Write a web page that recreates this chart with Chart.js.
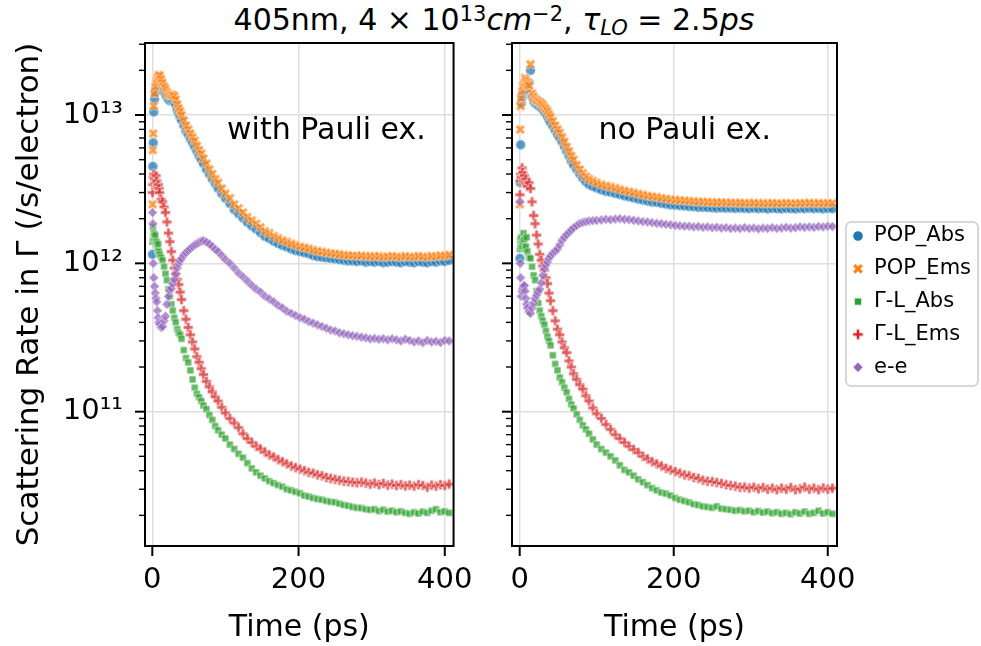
<!DOCTYPE html>
<html>
<head>
<meta charset="utf-8">
<script src="https://cdn.jsdelivr.net/npm/chart.js@4.4.1/dist/chart.umd.min.js"></script>
<style>
  body { margin: 0; background: #fff; }
  #wrap { position: relative; width: 981px; height: 646px; overflow: hidden; font-family: 'DejaVu Sans', sans-serif; }
  #title { position: absolute; left: 0; top: 5px; width: 988px; text-align: center; font-size: 30px; line-height: 1; color: #000; white-space: nowrap; }
  #title sup { font-size: 0.7em; vertical-align: 0.45em; line-height: 0; }
  #title sub { font-size: 0.7em; vertical-align: -0.25em; line-height: 0; }
  canvas { position: absolute; top: 0; }
</style>
</head>
<body>
<div id="wrap">
  <div id="title">405nm, 4 × 10<sup>13</sup><i>cm</i><sup>−2</sup>, <i>τ</i><sub><i>LO</i></sub> = 2.5<i>ps</i></div>
  <canvas id="pauliChart" width="490" height="646" style="left:0"></canvas>
  <canvas id="noPauliChart" width="491" height="646" style="left:490px"></canvas>
</div>
<script>
// Tempo (ps) das amostras, igual para os dois painéis
const times = [
  0.3, 0.7, 1.2, 2, 3, 4, 5, 6, 7, 8,
  9, 10, 12, 14, 16, 18, 20, 22, 24, 26,
  28, 30, 32, 34, 36, 38, 40, 43, 46, 49,
  52, 55, 58, 61, 64, 67, 70, 74, 78, 82,
  86, 90, 95, 100,
  106, 112, 118, 124, 130, 136, 142, 148, 154, 160,
  166, 172, 178, 184, 190, 196, 202, 208, 214, 220,
  226, 232, 238, 244, 250, 256, 262, 268, 274, 280,
  286, 292, 298, 304, 310, 316, 322, 328, 334, 340,
  346, 352, 358, 364, 370, 376, 382, 388, 394, 400,
  406
];

// taxas em unidades de 1e11 /s/electron
const UNIT = 1e11;

// painel esquerdo: with Pauli ex.
const popAbsPauli = [
  11.5, 45, 65, 105, 128, 142, 152, 160, 165, 170,
  172, 170, 162, 152, 144, 138, 132, 127, 125, 126,
  125, 123, 117, 108, 102, 97, 92, 85, 78, 74,
  69, 65, 61, 57, 53, 50, 47, 43, 40, 37,
  34.5, 32, 29.5, 27.5,
  25.3, 23, 21.6, 20.2, 18.9, 17.9, 17, 16.1, 15.2, 14.7,
  14.1, 13.6, 13.2, 12.9, 12.5, 12.2, 12, 11.8, 11.6, 11.3,
  11.1, 11, 10.9, 10.8, 10.7, 10.6, 10.5, 10.4, 10.4, 10.3,
  10.4, 10.2, 10.3, 10.2, 10.3, 10.1, 10.2, 10.3, 10.2, 10.1,
  10.3, 10.2, 10.1, 10.3, 10.2, 10.1, 10.3, 10.2, 10.4, 10.3,
  10.5
];
const popEmsPauli = [
  25, 58, 75, 115, 140, 155, 165, 172, 178, 183,
  186, 184, 175, 165, 156, 150, 143, 138, 136, 137,
  136, 134, 127, 118, 111, 106, 100, 92, 85, 80,
  75, 71, 67, 62, 58, 55, 51, 47, 43, 40,
  37, 35, 32, 29.5,
  27.5, 25, 23.5, 22, 20.5, 19.5, 18.5, 17.5, 16.5, 16,
  15.3, 14.8, 14.3, 14, 13.6, 13.3, 13, 12.8, 12.6, 12.3,
  12.1, 12, 11.8, 11.7, 11.6, 11.5, 11.4, 11.3, 11.3, 11.2,
  11.3, 11.1, 11.2, 11.1, 11.2, 11.0, 11.1, 11.2, 11.1, 11.0,
  11.2, 11.1, 11.0, 11.2, 11.1, 11.0, 11.2, 11.1, 11.3, 11.2,
  11.4
];
const glAbsPauli = [
  14, 17.5, 15, 16, 14.5, 15.5, 13.5, 14, 12.5, 13.5,
  12, 11.5, 11, 10.5, 9.5, 8.5, 7.7, 6.7, 6.0, 5.3,
  4.8, 4.3, 4.0, 3.6, 3.4, 3.3, 3.1, 2.6, 2.3, 2.15,
  1.9, 1.65, 1.45, 1.32, 1.25, 1.18, 1.1, 1.04, 0.95, 0.88,
  0.8, 0.75, 0.7, 0.66,
  0.6, 0.56, 0.52, 0.49, 0.45, 0.415, 0.39, 0.37, 0.355, 0.34,
  0.33, 0.32, 0.312, 0.30, 0.295, 0.288, 0.282, 0.272, 0.268, 0.262,
  0.258, 0.255, 0.25, 0.247, 0.245, 0.24, 0.235, 0.232, 0.228, 0.225,
  0.224, 0.22, 0.218, 0.22, 0.214, 0.218, 0.212, 0.215, 0.21, 0.213,
  0.208, 0.205, 0.21, 0.206, 0.212, 0.208, 0.215, 0.22, 0.21, 0.213,
  0.208
];
const glEmsPauli = [
  30, 34, 38, 40, 37, 35, 39, 36, 33, 34,
  32, 30, 27, 26, 24, 22, 19, 16, 14, 12,
  10.5, 9.3, 8.5, 7.8, 7.2, 6.4, 5.7, 4.8, 4.2, 3.7,
  3.3, 2.95, 2.65, 2.35, 2.15, 1.95, 1.78, 1.6, 1.47, 1.36,
  1.26, 1.18, 1.07, 0.98,
  0.9, 0.84, 0.78, 0.71, 0.66, 0.62, 0.585, 0.56, 0.535, 0.51,
  0.495, 0.475, 0.46, 0.445, 0.43, 0.42, 0.41, 0.40, 0.39, 0.385,
  0.375, 0.37, 0.36, 0.355, 0.35, 0.345, 0.34, 0.338, 0.335, 0.332,
  0.335, 0.33, 0.325, 0.33, 0.322, 0.328, 0.32, 0.325, 0.318, 0.322,
  0.316, 0.32, 0.315, 0.322, 0.318, 0.31, 0.32, 0.315, 0.322, 0.318,
  0.325
];
const eePauli = [
  22, 18.5, 10, 8, 7, 6.3, 5.8, 5.5, 4.8, 4.3,
  4.0, 3.9, 3.7, 3.75, 4.1, 4.4, 5.3, 6.0, 6.6, 6.8,
  7.3, 7.8, 8.5, 9.3, 9.9, 10.4, 10.8, 11.4, 11.8, 12.2,
  12.6, 13.0, 13.3, 13.6, 13.9, 14.1, 14.2, 13.9, 13.5, 13.0,
  12.4, 12.0, 11.3, 10.6,
  10.0, 9.3, 8.6, 8.1, 7.6, 7.1, 6.7, 6.4, 6.0, 5.75,
  5.5, 5.2, 5.0, 4.75, 4.6, 4.45, 4.3, 4.2, 4.05, 3.95,
  3.85, 3.75, 3.65, 3.55, 3.5, 3.4, 3.35, 3.3, 3.25, 3.22,
  3.18, 3.15, 3.1, 3.12, 3.08, 3.1, 3.05, 3.1, 3.05, 3.0,
  3.08, 3.02, 2.95, 3.0, 2.92, 3.02, 2.95, 2.98, 2.93, 3.02,
  3.0
];

// painel direito: no Pauli ex.
const popAbsNoPauli = [
  10.8, 35, 63, 120, 133, 140, 145, 150, 160, 158,
  155, 150, 165, 200, 133, 124, 120, 118, 116, 114,
  112, 109, 105, 102, 98, 93, 89, 84, 79, 74,
  70, 66, 61, 57, 53, 49, 46, 43, 40, 37.5,
  35.5, 34, 33, 32.2,
  31.3, 30.6, 30.2, 29.6, 29.1, 28.5, 28.1, 27.6, 27.1, 26.7,
  26.3, 25.9, 25.8, 25.4, 25.1, 24.8, 24.7, 24.5, 24.4, 24.2,
  24.1, 23.9, 23.9, 23.8, 23.7, 23.6, 23.7, 23.6, 23.6, 23.5,
  23.6, 23.5, 23.4, 23.6, 23.4, 23.5, 23.3, 23.5, 23.4, 23.3,
  23.5, 23.4, 23.3, 23.5, 23.4, 23.6, 23.4, 23.5, 23.3, 23.5,
  23.4
];
const popEmsNoPauli = [
  25, 80, 115, 130, 145, 155, 160, 165, 178, 172,
  165, 160, 158, 220, 140, 133, 128, 126, 124, 122,
  120, 117, 113, 110, 106, 101, 97, 91, 85, 80,
  76, 71, 66, 61, 57, 53, 50, 46, 43, 40.5,
  38.5, 37, 36, 35,
  34, 33.3, 32.8, 32.2, 31.6, 31, 30.5, 30, 29.5, 29,
  28.6, 28.2, 28, 27.6, 27.3, 27, 26.8, 26.6, 26.5, 26.3,
  26.2, 26, 26, 25.9, 25.8, 25.7, 25.8, 25.6, 25.7, 25.5,
  25.6, 25.5, 25.4, 25.6, 25.4, 25.5, 25.3, 25.5, 25.4, 25.3,
  25.5, 25.4, 25.3, 25.5, 25.4, 25.6, 25.4, 25.5, 25.3, 25.5,
  25.4
];
const glAbsNoPauli = [
  12.5, 14.5, 13.5, 15, 13, 14, 16, 14.5, 12.5, 13,
  15, 12, 11, 10.8, 9.5, 8.3, 7.7, 6.5, 5.4, 4.8,
  4.4, 4.1, 3.85, 3.5, 3.2, 3.0, 2.8, 2.4, 2.1, 1.9,
  1.7, 1.58, 1.45, 1.35, 1.22, 1.12, 1.05, 0.96, 0.88, 0.81,
  0.76, 0.71, 0.65, 0.6,
  0.56, 0.53, 0.5, 0.47, 0.435, 0.405, 0.39, 0.37, 0.35, 0.335,
  0.32, 0.305, 0.295, 0.285, 0.28, 0.272, 0.262, 0.255, 0.25, 0.245,
  0.238, 0.235, 0.23, 0.228, 0.225, 0.23, 0.222, 0.22, 0.218, 0.215,
  0.217, 0.213, 0.215, 0.21, 0.214, 0.209, 0.212, 0.207, 0.21, 0.205,
  0.208, 0.204, 0.21, 0.206, 0.212, 0.205, 0.208, 0.215, 0.206, 0.21,
  0.205
];
const glEmsNoPauli = [
  29, 36, 40, 38, 44, 41, 36, 39, 35, 37,
  34, 33, 35, 32, 26, 21, 18.5, 15.5, 13.5, 11.5,
  10.5, 9.6, 9.0, 8.0, 7.3, 6.3, 5.6, 4.8, 4.1, 3.6,
  3.3, 2.95, 2.7, 2.5, 2.2, 2.0, 1.8, 1.65, 1.52, 1.42,
  1.28, 1.18, 1.06, 0.97,
  0.9, 0.82, 0.76, 0.7, 0.66, 0.62, 0.585, 0.555, 0.53, 0.5,
  0.48, 0.46, 0.445, 0.43, 0.415, 0.405, 0.395, 0.385, 0.375, 0.37,
  0.36, 0.355, 0.345, 0.34, 0.338, 0.333, 0.328, 0.322, 0.318, 0.315,
  0.31, 0.31, 0.305, 0.31, 0.302, 0.308, 0.3, 0.305, 0.298, 0.305,
  0.3, 0.308, 0.298, 0.302, 0.31, 0.3, 0.305, 0.298, 0.306, 0.3,
  0.305
];
const eeNoPauli = [
  26, 10, 8, 6.0, 6.5, 6.8, 7.0, 7.1, 6.5, 5.8,
  5.3, 5.0, 4.7, 4.6, 5.0, 5.4, 5.8, 6.1, 6.4, 6.7,
  7.4, 8.3, 9.2, 9.7, 10.2, 10.8, 11.2, 11.7, 12.1, 12.5,
  13.3, 14.3, 15.0, 15.6, 16.2, 16.8, 17.4, 18.0, 18.6, 18.9,
  19.1, 19.3, 19.4, 19.5,
  19.6, 19.8, 19.7, 19.9, 20.0, 19.8, 19.7, 19.5, 19.3, 19.1,
  19.0, 18.8, 18.6, 18.5, 18.3, 18.2, 18.0, 17.9, 17.8, 17.8,
  17.6, 17.7, 17.5, 17.6, 17.4, 17.5, 17.3, 17.4, 17.2, 17.3,
  17.2, 17.4, 17.2, 17.3, 17.1, 17.3, 17.2, 17.4, 17.2, 17.3,
  17.5, 17.3, 17.4, 17.6, 17.5, 17.6, 17.5, 17.7, 17.6, 17.8,
  17.7
];

const seriesNames = ['POP_Abs', 'POP_Ems', 'Γ-L_Abs', 'Γ-L_Ems', 'e-e'];
const seriesColors = ['#1f77b4', '#ff7f0e', '#2ca02c', '#d62728', '#9467bd'];
const seriesShapes = ['circle', 'x', 'square', 'plus', 'diamond'];

const xTickValues = [0, 200, 400];
const yTickExps = [10, 11, 12, 13];
const yTickMults = [1, 2, 3, 4, 5, 6, 7, 8, 9];
const X_MIN = -10, X_MAX = 412;
const Y_MIN = 1.243e10, Y_MAX = 3.058e13;

const FAMILY = "'DejaVu Sans', sans-serif";
const GRID = '#dedede';

// ticks do eixo log: 1..9 x 10^n dentro do intervalo
const yTickValues = [];
yTickExps.forEach(e => yTickMults.forEach(m => {
  const v = m * Math.pow(10, e);
  if (v >= Y_MIN && v <= Y_MAX) yTickValues.push(v);
}));

function isDecade(v) {
  const l = Math.log10(v);
  return Math.abs(l - Math.round(l)) < 1e-9;
}

const SUP = ['⁰', '¹', '²', '³', '⁴', '⁵', '⁶', '⁷', '⁸', '⁹'];
function decadeLabel(v) {
  const e = String(Math.round(Math.log10(v)));
  return '10' + e.split('').map(d => SUP[+d]).join('');
}

// Marcadores no estilo do seaborn (o, X, s, P, D) com borda branca
const X_FILLED = [[-1, -2], [0, -1], [1, -2], [2, -1], [1, 0], [2, 1], [1, 2], [0, 1], [-1, 2], [-2, 1], [-1, 0], [-2, -1]];
const P_FILLED = [[-1, -3], [-1, -1], [-3, -1], [-3, 1], [-1, 1], [-1, 3], [1, 3], [1, 1], [3, 1], [3, -1], [1, -1], [1, -3]];

function makeMarker(shape, color, r, alpha) {
  const size = Math.ceil(2 * r + 3);
  const c = document.createElement('canvas');
  c.width = size;
  c.height = size;
  const g = c.getContext('2d');
  const m = size / 2;
  let pts = null;
  if (shape === 'x') pts = X_FILLED.map(([a, b]) => [a * r / 2, b * r / 2]);
  if (shape === 'plus') pts = P_FILLED.map(([a, b]) => [a * r / 3, b * r / 3]);
  if (shape === 'diamond') pts = [[0, -r], [r, 0], [0, r], [-r, 0]];
  if (shape === 'square') {
    const h = r / Math.SQRT2;
    pts = [[-h, -h], [h, -h], [h, h], [-h, h]];
  }
  g.beginPath();
  if (shape === 'circle') {
    g.arc(m, m, r, 0, Math.PI * 2);
  } else {
    pts.forEach(([a, b], k) => k ? g.lineTo(m + a, m + b) : g.moveTo(m + a, m + b));
  }
  g.closePath();
  g.globalAlpha = alpha;
  g.fillStyle = color;
  g.fill();
  g.strokeStyle = '#fff';
  g.lineWidth = 0.8;
  g.stroke();
  return c;
}

const plotMarkers = seriesShapes.map((s, i) => makeMarker(s, seriesColors[i], 4.9, 0.75));
const legendMarkers = seriesShapes.map((s, i) => makeMarker(s, seriesColors[i], 5.2, 1));

// moldura, marcas de tick e texto do painel
const framePlugin = {
  id: 'frame',
  afterDraw(chart) {
    const { ctx, chartArea: a, scales: { x, y } } = chart;
    ctx.save();
    ctx.strokeStyle = '#000';
    ctx.lineCap = 'butt';

    ctx.lineWidth = 2;
    xTickValues.forEach(v => {
      const px = x.getPixelForValue(v);
      ctx.beginPath();
      ctx.moveTo(px, a.bottom);
      ctx.lineTo(px, a.bottom + 10);
      ctx.stroke();
    });
    yTickValues.forEach(v => {
      const py = y.getPixelForValue(v);
      const major = isDecade(v);
      ctx.lineWidth = major ? 2 : 1.4;
      ctx.beginPath();
      ctx.moveTo(a.left, py);
      ctx.lineTo(a.left - (major ? 10 : 6), py);
      ctx.stroke();
    });

    ctx.lineWidth = 2;
    ctx.strokeRect(a.left, a.top, a.right - a.left, a.bottom - a.top);

    const txt = chart.options.plugins.frame.text;
    if (txt) {
      ctx.fillStyle = '#000';
      ctx.font = '30px ' + FAMILY;
      ctx.textBaseline = 'middle';
      ctx.textAlign = 'left';
      ctx.fillText(txt, a.left + 0.266 * (a.right - a.left), a.top + 0.175 * (a.bottom - a.top));
    }
    ctx.restore();
  }
};

// legenda com caixa arredondada, à direita do painel
const legendPlugin = {
  id: 'boxLegend',
  afterDraw(chart) {
    if (!chart.options.plugins.boxLegend.show) return;
    const { ctx, chartArea: a } = chart;
    const bx = a.right + 9, by = 222, bw = 132, bh = 164;
    ctx.save();
    ctx.beginPath();
    ctx.roundRect(bx, by, bw, bh, 5);
    ctx.fillStyle = 'rgba(255,255,255,0.8)';
    ctx.fill();
    ctx.strokeStyle = '#cccccc';
    ctx.lineWidth = 1.5;
    ctx.stroke();
    ctx.font = '21px ' + FAMILY;
    ctx.fillStyle = '#000';
    ctx.textBaseline = 'middle';
    ctx.textAlign = 'left';
    seriesNames.forEach((name, i) => {
      const cy = by + 14 + i * 32.8;
      const img = legendMarkers[i];
      ctx.drawImage(img, bx + 12 - img.width / 2, cy - img.height / 2);
      ctx.fillText(name, bx + 28, cy);
    });
    ctx.restore();
  }
};

function buildChart(canvasId, series, opts) {
  const datasets = seriesNames.map((name, i) => ({
    label: name,
    data: times.map((t, k) => ({ x: t, y: series[i][k] * UNIT })),
    pointStyle: plotMarkers[i],
    pointRadius: 4,
    order: seriesNames.length - i
  }));

  return new Chart(document.getElementById(canvasId), {
    type: 'scatter',
    data: { datasets },
    options: {
      responsive: false,
      animation: false,
      devicePixelRatio: 1,
      events: [],
      layout: { padding: opts.padding },
      plugins: {
        legend: { display: false },
        tooltip: { enabled: false },
        frame: { text: opts.text },
        boxLegend: { show: opts.legend }
      },
      scales: {
        x: {
          type: 'linear',
          min: X_MIN,
          max: X_MAX,
          afterBuildTicks: s => { s.ticks = xTickValues.map(v => ({ value: v })); },
          afterFit: s => { s.height = 100; },
          grid: { color: GRID, lineWidth: 1.5, drawTicks: false },
          border: { display: false },
          ticks: {
            font: { family: FAMILY, size: 29 },
            color: '#000',
            padding: 17,
            maxRotation: 0,
            autoSkip: false,
            callback: v => String(v)
          },
          title: {
            display: true,
            text: 'Time (ps)',
            color: '#000',
            font: { family: FAMILY, size: 30 },
            padding: { top: 0, bottom: 0 }
          }
        },
        y: {
          type: 'logarithmic',
          min: Y_MIN,
          max: Y_MAX,
          afterBuildTicks: s => { s.ticks = yTickValues.map(v => ({ value: v })); },
          afterFit: s => { s.width = opts.yWidth; },
          grid: {
            color: c => (c.tick && isDecade(c.tick.value)) ? GRID : 'rgba(0,0,0,0)',
            lineWidth: 1.5,
            drawTicks: false
          },
          border: { display: false },
          ticks: {
            display: opts.yLabels,
            font: { family: FAMILY, size: 29 },
            color: '#000',
            padding: 22,
            autoSkip: false,
            callback: v => isDecade(v) ? decadeLabel(v) : ''
          },
          title: {
            display: opts.yLabels,
            text: 'Scattering Rate in Γ (/s/electron)',
            color: '#000',
            font: { family: FAMILY, size: 31 },
            padding: { top: 11, bottom: 0 }
          }
        }
      }
    },
    plugins: [framePlugin, legendPlugin]
  });
}

buildChart('pauliChart',
  [popAbsPauli, popEmsPauli, glAbsPauli, glEmsPauli, eePauli],
  { padding: { left: 0, right: 19, top: 43, bottom: 0 }, yWidth: 145, yLabels: true, text: 'with Pauli ex.', legend: false });

buildChart('noPauliChart',
  [popAbsNoPauli, popEmsNoPauli, glAbsNoPauli, glEmsNoPauli, eeNoPauli],
  { padding: { left: 0, right: 144, top: 43, bottom: 0 }, yWidth: 22, yLabels: false, text: 'no Pauli ex.', legend: true });
</script>
</body>
</html>
